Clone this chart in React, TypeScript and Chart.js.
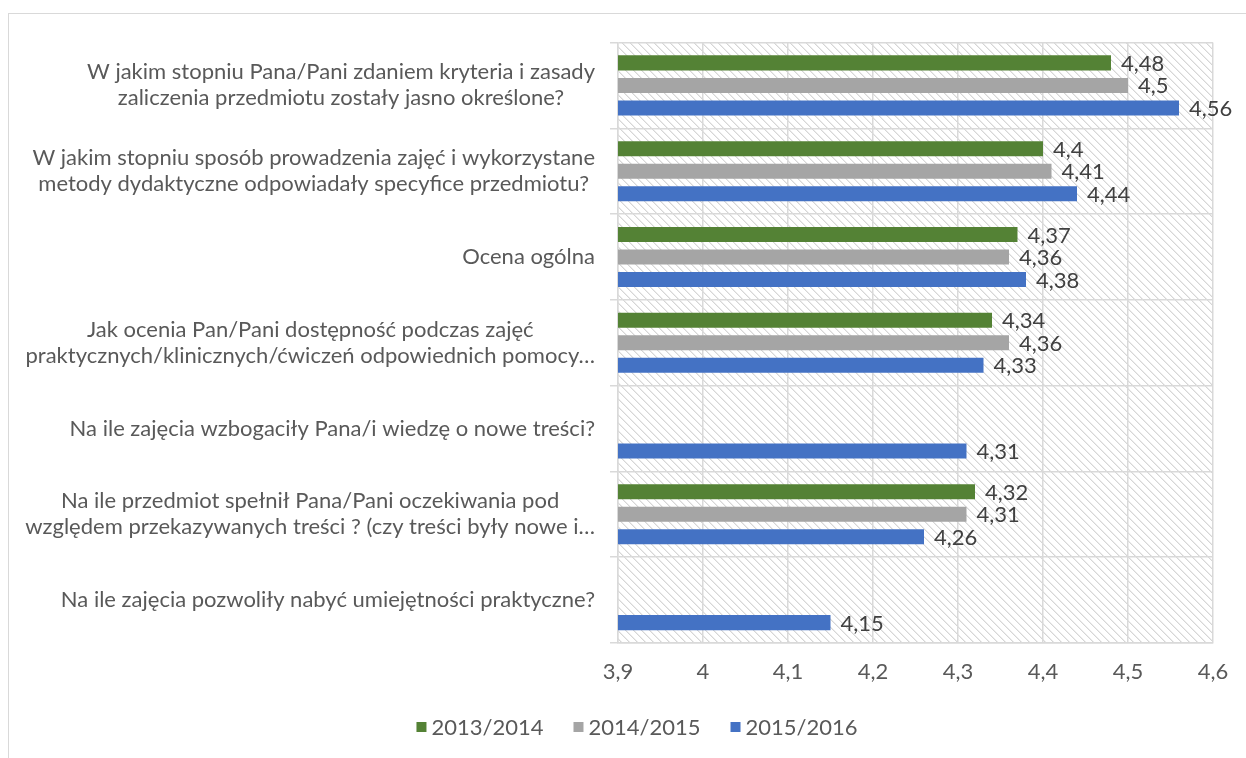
import React, { useEffect, useRef } from "react";
import { Chart, registerables } from "chart.js";

Chart.register(...registerables);

const categories: string[][] = [
  ["W jakim stopniu Pana/Pani zdaniem kryteria i zasady", "zaliczenia przedmiotu zostały jasno określone?"],
  ["W jakim stopniu sposób prowadzenia zajęć i wykorzystane", "metody dydaktyczne odpowiadały specyfice przedmiotu?"],
  ["Ocena ogólna"],
  ["Jak ocenia Pan/Pani dostępność podczas zajęć", "praktycznych/klinicznych/ćwiczeń odpowiednich pomocy…"],
  ["Na ile zajęcia wzbogaciły Pana/i wiedzę o nowe treści?"],
  ["Na ile przedmiot spełnił Pana/Pani oczekiwania pod", "względem przekazywanych treści ? (czy treści były nowe i…"],
  ["Na ile zajęcia pozwoliły nabyć umiejętności praktyczne?"],
];

const series2013: (number | null)[] = [4.48, 4.4, 4.37, 4.34, null, 4.32, null];
const series2014: (number | null)[] = [4.5, 4.41, 4.36, 4.36, null, 4.31, null];
const series2015: (number | null)[] = [4.56, 4.44, 4.38, 4.33, 4.31, 4.26, 4.15];

const seriesNames = ["2013/2014", "2014/2015", "2015/2016"];
const seriesColors = ["#548235", "#A5A5A5", "#4472C4"];

const xMin = 3.9;
const xMax = 4.6;
const xStep = 0.1;

const FONT = "Lato";
const FONT_SIZE = 22;

const fmt = (v: number) => String(Math.round(v * 100) / 100).replace(".", ",");

function makeHatch(): CanvasPattern | string {
  const c = document.createElement("canvas");
  c.width = 8;
  c.height = 8;
  const g = c.getContext("2d");
  if (!g) return "#fff";
  g.fillStyle = "#ffffff";
  g.fillRect(0, 0, 8, 8);
  g.fillStyle = "#d6d6d6";
  for (let i = 0; i < 8; i++) g.fillRect(i, i, 1, 1);
  g.fillStyle = "#ececec";
  for (let i = 0; i < 8; i++) g.fillRect((i + 1) % 8, i, 1, 1);
  const p = g.createPattern(c, "repeat");
  return p || "#fff";
}

const hatchPlugin = {
  id: "hatchBg",
  beforeDraw(chart: any) {
    const { ctx, chartArea } = chart;
    if (!chartArea) return;
    ctx.save();
    ctx.fillStyle = makeHatch();
    ctx.fillRect(chartArea.left, chartArea.top, chartArea.right - chartArea.left, chartArea.bottom - chartArea.top);
    ctx.restore();
  },
};

const labelsPlugin = {
  id: "customLabels",
  afterDraw(chart: any) {
    const { ctx } = chart;
    const yScale = chart.scales.y;
    ctx.save();
    ctx.font = `${FONT_SIZE}px ${FONT}`;
    ctx.textBaseline = "middle";
    // category labels: blocks right-aligned, lines centered inside block
    const lineH = 26;
    const rightEdge = yScale.right - 23;
    ctx.fillStyle = "#595959";
    ctx.textAlign = "center";
    categories.forEach((lines, i) => {
      const cy = yScale.getPixelForValue(i);
      const w = Math.max(...lines.map((l) => ctx.measureText(l).width));
      const cx = rightEdge - w / 2;
      const y0 = cy - ((lines.length - 1) * lineH) / 2;
      lines.forEach((l, k) => ctx.fillText(l, cx, y0 + k * lineH));
    });
    // data labels
    ctx.fillStyle = "#404040";
    ctx.textAlign = "left";
    chart.data.datasets.forEach((ds: any, di: number) => {
      const meta = chart.getDatasetMeta(di);
      meta.data.forEach((el: any, idx: number) => {
        const v = ds.data[idx];
        if (v === null || v === undefined) return;
        ctx.fillText(fmt(v), el.x + 10, el.y + 1);
      });
    });
    // legend
    const box = 10;
    const gapBT = 5;
    const gapItems = 30;
    const items = chart.data.datasets.map((ds: any) => ({ text: ds.label, color: ds.backgroundColor }));
    const widths = items.map((it: any) => box + gapBT + ctx.measureText(it.text).width);
    const total = widths.reduce((a: number, b: number) => a + b, 0) + gapItems * (items.length - 1);
    let x = chart.width / 2 - 1 - total / 2;
    const ly = chart.height - 45;
    ctx.fillStyle = "#595959";
    items.forEach((it: any, i: number) => {
      ctx.fillStyle = it.color;
      ctx.fillRect(x, ly - box / 2, box, box);
      ctx.fillStyle = "#595959";
      ctx.fillText(it.text, x + box + gapBT, ly + 1);
      x += widths[i] + gapItems;
    });
    ctx.restore();
  },
};

export default function App() {
  const ref = useRef<HTMLCanvasElement | null>(null);

  useEffect(() => {
    if (!ref.current) return;
    const chart = new Chart(ref.current, {
      type: "bar",
      data: {
        labels: categories,
        datasets: [series2013, series2014, series2015].map((d, i) => ({
          label: seriesNames[i],
          data: d,
          backgroundColor: seriesColors[i],
          borderWidth: 0,
          categoryPercentage: 0.7875,
          barPercentage: 0.667,
        })),
      },
      options: {
        indexAxis: "y",
        animation: false,
        responsive: true,
        maintainAspectRatio: false,
        layout: { padding: { top: 28.5, right: 54, bottom: 85, left: 0 } },
        plugins: {
          legend: { display: false },
          tooltip: { enabled: false },
        },
        scales: {
          x: {
            type: "linear",
            min: xMin,
            max: xMax,
            ticks: {
              stepSize: xStep,
              callback: (v: any) => fmt(Number(v)),
              color: "#595959",
              font: { family: FONT, size: FONT_SIZE },
              padding: 16,
              maxRotation: 0,
            },
            grid: { color: "#d9d9d9", lineWidth: 1.5, drawTicks: false },
            border: { color: "#d9d9d9", width: 1.5 },
            afterFit: (s: any) => {
              s.height = 44;
            },
          },
          y: {
            ticks: { color: "transparent", font: { size: 1 } },
            grid: { color: "#d9d9d9", lineWidth: 1.5, tickLength: 8, offset: true },
            border: { color: "#d9d9d9", width: 1.5 },
            afterFit: (s: any) => {
              s.width = 609;
            },
          },
        },
      },
      plugins: [hatchPlugin, labelsPlugin],
    } as any);
    return () => chart.destroy();
  }, []);

  return (
    <div
      style={{
        position: "fixed",
        left: 8,
        top: 13,
        width: 1260,
        height: 760,
        border: "1px solid #d9d9d9",
        background: "#fff",
        boxSizing: "border-box",
      }}
    >
      <div style={{ position: "relative", width: 1258, height: 758 }}>
        <canvas ref={ref} />
      </div>
    </div>
  );
}
